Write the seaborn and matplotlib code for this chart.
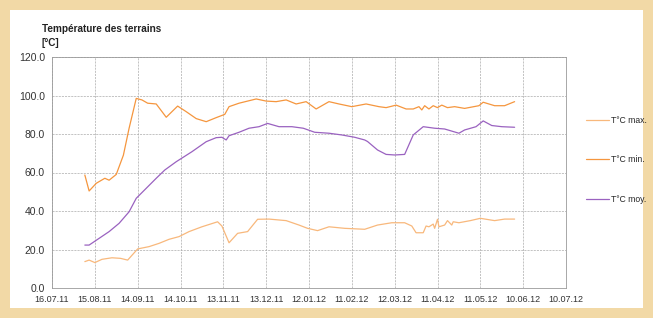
import pandas as pd
import numpy as np
import matplotlib
matplotlib.use("Agg")
import matplotlib.pyplot as plt
import matplotlib.dates as mdates
from matplotlib.patches import Rectangle
import seaborn as sns

# upper (dark orange) curve
dates_min = ["2011-08-08", "2011-08-11", "2011-08-16", "2011-08-22", "2011-08-25", "2011-08-30",
             "2011-09-04", "2011-09-08", "2011-09-13", "2011-09-17", "2011-09-21", "2011-09-27",
             "2011-10-04", "2011-10-12", "2011-10-18", "2011-10-25", "2011-11-01", "2011-11-08",
             "2011-11-14", "2011-11-17", "2011-11-24", "2011-12-06", "2011-12-13", "2011-12-20",
             "2011-12-27", "2012-01-03", "2012-01-10", "2012-01-17", "2012-01-26", "2012-02-02",
             "2012-02-11", "2012-02-21", "2012-03-01", "2012-03-06", "2012-03-13", "2012-03-20",
             "2012-03-25", "2012-03-29", "2012-03-31", "2012-04-02", "2012-04-05", "2012-04-08",
             "2012-04-11", "2012-04-14", "2012-04-18", "2012-04-23", "2012-04-30", "2012-05-10",
             "2012-05-13", "2012-05-21", "2012-05-28", "2012-06-04"]
t_min = [58.7, 50.4, 54.4, 57.0, 56.0, 59.0,
         69.0, 83.0, 98.5, 97.7, 96.0, 95.6,
         88.7, 94.5, 91.6, 88.0, 86.4, 88.5,
         90.2, 94.2, 96.0, 98.2, 97.1, 96.8,
         97.7, 95.6, 96.8, 93.0, 96.8, 95.6,
         94.2, 95.6, 94.2, 93.7, 95.0, 93.0,
         93.0, 94.2, 92.5, 94.7, 93.0, 94.7,
         93.7, 95.0, 93.7, 94.2, 93.3, 94.7,
         96.5, 94.7, 94.7, 96.8]

# purple curve
dates_moy = ["2011-08-08", "2011-08-11", "2011-08-18", "2011-08-25", "2011-09-01", "2011-09-08",
             "2011-09-13", "2011-09-20", "2011-09-27", "2011-10-03", "2011-10-11", "2011-10-22",
             "2011-11-01", "2011-11-08", "2011-11-12", "2011-11-15", "2011-11-17", "2011-11-24",
             "2011-12-01", "2011-12-08", "2011-12-14", "2011-12-22", "2011-12-31", "2012-01-08",
             "2012-01-16", "2012-01-26", "2012-02-04", "2012-02-13", "2012-02-20", "2012-02-22",
             "2012-02-29", "2012-03-06", "2012-03-12", "2012-03-19", "2012-03-25", "2012-04-01",
             "2012-04-09", "2012-04-16", "2012-04-26", "2012-04-30", "2012-05-08", "2012-05-13",
             "2012-05-19", "2012-05-26", "2012-06-04"]
t_moy = [22.3, 22.3, 25.8, 29.3, 33.6, 39.6,
         46.6, 51.8, 57.0, 61.3, 65.6, 70.8,
         76.0, 78.1, 78.3, 76.9, 79.1, 80.9,
         83.0, 83.8, 85.5, 83.8, 83.8, 83.0,
         80.9, 80.4, 79.5, 78.3, 76.9, 76.1,
         71.7, 69.4, 69.1, 69.4, 79.5, 83.8,
         83.0, 82.6, 80.4, 82.1, 83.8, 86.8,
         84.4, 83.8, 83.5]

# lower (light peach) curve
dates_max = ["2011-08-08", "2011-08-11", "2011-08-15", "2011-08-20", "2011-08-27", "2011-09-02",
             "2011-09-07", "2011-09-14", "2011-09-22", "2011-09-29", "2011-10-06", "2011-10-13",
             "2011-10-20", "2011-10-29", "2011-11-09", "2011-11-12", "2011-11-17", "2011-11-23",
             "2011-11-30", "2011-12-07", "2011-12-15", "2011-12-27", "2012-01-05", "2012-01-11",
             "2012-01-18", "2012-01-26", "2012-02-06", "2012-02-20", "2012-02-29", "2012-03-10",
             "2012-03-19", "2012-03-24", "2012-03-27", "2012-04-01", "2012-04-03", "2012-04-05",
             "2012-04-08", "2012-04-09", "2012-04-11", "2012-04-12", "2012-04-16", "2012-04-18",
             "2012-04-21", "2012-04-22", "2012-04-26", "2012-05-04", "2012-05-11", "2012-05-21",
             "2012-05-28", "2012-06-04"]
t_max = [13.7, 14.5, 13.2, 14.9, 15.7, 15.4,
         14.5, 20.3, 21.5, 23.2, 25.3, 26.7,
         29.3, 31.8, 34.4, 32.2, 23.5, 28.4,
         29.3, 35.7, 35.8, 35.0, 32.7, 31.0,
         29.8, 31.8, 31.0, 30.5, 32.7, 33.9,
         33.9, 32.2, 28.7, 28.7, 32.2, 31.8,
         33.2, 31.0, 35.7, 31.8, 32.7, 35.0,
         32.7, 34.4, 33.9, 35.0, 36.2, 35.0,
         35.8, 35.8]

labels = ["T°C max.", "T°C min.", "T°C moy."]
colors = {"T°C max.": "#f8b87c", "T°C min.": "#f5963e", "T°C moy.": "#9a62c0"}

df = pd.concat([
    pd.DataFrame({"date": pd.to_datetime(dates_max), "temp": t_max, "serie": labels[0]}),
    pd.DataFrame({"date": pd.to_datetime(dates_min), "temp": t_min, "serie": labels[1]}),
    pd.DataFrame({"date": pd.to_datetime(dates_moy), "temp": t_moy, "serie": labels[2]}),
])

sns.set_style("white")
plt.rcParams["font.family"] = ["Liberation Sans", "DejaVu Sans"]

fig = plt.figure(figsize=(6.53, 3.18), dpi=100, facecolor="#f2d9a6")
fig.patches.append(Rectangle((10 / 653, 10 / 318), 633 / 653, 298 / 318,
                             transform=fig.transFigure, facecolor="white",
                             edgecolor="none", zorder=-10))
ax = fig.add_axes([52 / 653, 1 - 288 / 318, 514 / 653, 231 / 318])
ax.set_facecolor("white")

sns.lineplot(data=df, x="date", y="temp", hue="serie", palette=colors,
             hue_order=labels, linewidth=0.9, ax=ax, estimator=None, sort=True)

xticks = pd.date_range("2011-07-16", periods=13, freq="30D")
ax.set_xlim(xticks[0], xticks[-1])
ax.set_xticks(xticks)
ax.set_xticks(pd.date_range("2011-07-16", "2012-07-10", freq="180h"), minor=True)
ax.xaxis.set_major_formatter(mdates.DateFormatter("%d.%m.%y"))
ax.set_ylim(0, 120)
ax.set_yticks(np.arange(0, 121, 20))
ax.set_yticks(np.arange(0, 121, 5), minor=True)
ax.yaxis.set_major_formatter(plt.FormatStrFormatter("%.1f"))

ax.grid(True, which="major", color="#ababab", linestyle=(0, (3, 1.5)), linewidth=0.5)
for s in ax.spines.values():
    s.set_color("#9a9a9a")
    s.set_linewidth(0.6)
ax.tick_params(axis="both", which="major", labelsize=6.5, colors="#9a9a9a",
               labelcolor="#333333", direction="inout", length=4, width=0.6, pad=3)
ax.tick_params(axis="y", which="major", labelsize=7.5)
ax.tick_params(axis="both", which="minor", colors="#9a9a9a", direction="inout",
               length=2.5, width=0.5)
ax.set_xlabel("")
ax.set_ylabel("")

fig.text(42 / 653, 1 - 29 / 318, "Température des terrains", fontsize=7.2,
         fontweight="bold", color="#222222", va="center")
fig.text(42 / 653, 1 - 43 / 318, "[°C]", fontsize=7.2, fontweight="bold",
         color="#222222", va="center")

handles, labs = ax.get_legend_handles_labels()
ax.legend(handles, labs, loc="upper left", bbox_to_anchor=(582 / 653, 1 - 112 / 318),
          bbox_transform=fig.transFigure, frameon=False, fontsize=6.2,
          labelspacing=3.5, handlelength=2.6, handletextpad=0.3, borderpad=0)

fig.savefig("out.png", dpi=100, facecolor=fig.get_facecolor())
